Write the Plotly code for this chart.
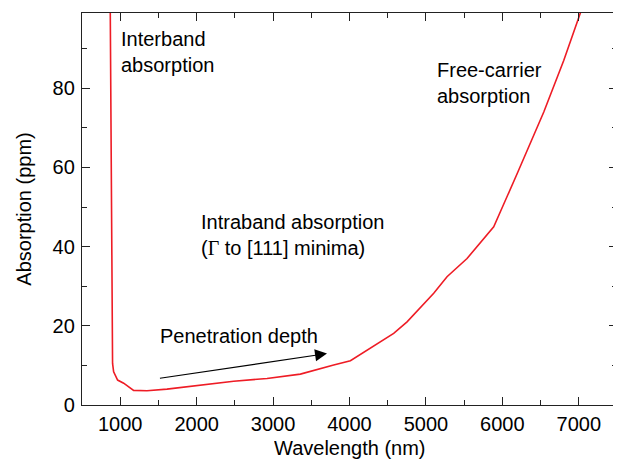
import plotly.graph_objects as go

# Data
wavelength_nm = [867, 870, 900, 914, 966, 1045, 1175, 1350, 1612, 2048, 2484,
                 2921, 3357, 3793, 4012, 4578, 4753, 5102, 5276, 5538, 5887,
                 6193, 6542, 6803, 7021, 7075]
absorption_ppm = [102, 99, 10.5, 8.4, 6.3, 5.5, 3.7, 3.6, 4.0, 5.0, 6.0,
                  6.7, 7.8, 10.1, 11.2, 18.1, 21, 28.2, 32.4, 37, 45,
                  58.4, 74, 87, 99, 102]

x_ticks = [1000, 2000, 3000, 4000, 5000, 6000, 7000]
y_ticks = [0, 20, 40, 60, 80]

arrow_tail = (1500, 6.7)
arrow_head = (3706, 13.0)

FONT = "Liberation Sans, Arial, Helvetica, sans-serif"

fig = go.Figure()
fig.add_trace(go.Scatter(
    x=wavelength_nm, y=absorption_ppm, mode="lines",
    line=dict(color="#ee1c25", width=1.6), showlegend=False,
    hoverinfo="skip"))

axis_common = dict(
    showgrid=False, zeroline=False, showline=True, linecolor="#222222",
    linewidth=1.3, mirror="ticks", ticks="inside", ticklen=8, tickwidth=1.3,
    tickcolor="#222222", tickfont=dict(family=FONT, size=20, color="black"),
    automargin=False,
)

fig.update_xaxes(
    range=[500, 7500], tickvals=x_ticks, ticklabelstandoff=1,
    minor=dict(dtick=500, tick0=0, ticks="inside", ticklen=4.5,
               tickwidth=1.2, tickcolor="#222222"),
    **axis_common)
fig.update_yaxes(
    range=[0, 99], tickvals=y_ticks, ticklabelstandoff=2,
    minor=dict(dtick=10, tick0=0, ticks="inside", ticklen=4.5,
               tickwidth=1.2, tickcolor="#222222"),
    title=dict(text="Absorption (ppm)", font=dict(family=FONT, size=20, color="black")),
    **axis_common)

ann_font = dict(family=FONT, size=20, color="black")
texts = [
    (985, 95.7, "Interband<br>absorption"),
    (2027, 49.5, "Intraband absorption<br>(<span style='font-family:Liberation Serif, Times New Roman, serif'>Γ</span> to [111] minima)"),
    (1490, 20.6, "Penetration depth"),
    (5122, 88.0, "Free-carrier<br>absorption"),
]
annotations = []
for x, y, t in texts:
    annotations.append(dict(x=x, y=y, xref="x", yref="y", text=t, showarrow=False,
                            xanchor="left", yanchor="top", align="left",
                            font=ann_font))
annotations.append(dict(
    x=arrow_head[0], y=arrow_head[1], ax=arrow_tail[0], ay=arrow_tail[1],
    xref="x", yref="y", axref="x", ayref="y", text="", showarrow=True,
    arrowhead=2, arrowsize=2.0, arrowwidth=1.2, arrowcolor="black"))
# x-axis title placed as text under the axis
annotations.append(dict(x=0.5, y=-0.0765, xref="paper", yref="paper",
                        text="Wavelength (nm)", showarrow=False, height=22,
                        xanchor="center", yanchor="top", font=ann_font))

# page body has an 8px default margin: size and margins compensate for it
fig.update_layout(
    width=613, height=456,
    margin=dict(l=74, r=4, t=5, b=59),
    paper_bgcolor="white", plot_bgcolor="white",
    font=dict(family=FONT, size=20, color="black"),
    annotations=annotations,
)

fig.write_html("out.html")
